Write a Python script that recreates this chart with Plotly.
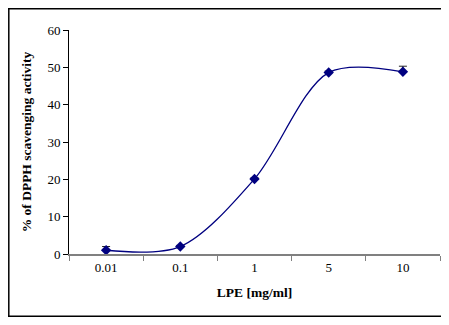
import plotly.graph_objects as go

categories = ["0.01", "0.1", "1", "5", "10"]
activity = [1.0, 2.0, 20.1, 48.6, 48.8]
err_plus = [1.0, 0.3, 0.3, 0.4, 1.5]
y_ticks = [0, 10, 20, 30, 40, 50, 60]

font_family = "Liberation Serif, Times New Roman, serif"

# page body adds an 8px margin; size the figure so the page does not scroll
W, H = 433, 309
L, R, T, B = 61, 1, 22, 63
PW, PH = W - L - R, H - T - B

def px_x(p):
    return (p - L) / PW

def px_y(p):
    return (H - B - p) / PH

fig = go.Figure()
fig.add_trace(go.Scatter(
    x=categories, y=activity, mode="lines+markers",
    line=dict(color="#000080", width=1.3, shape="spline", smoothing=0.9),
    marker=dict(symbol="diamond", size=8, color="#000080"),
    error_y=dict(type="data", array=err_plus, arrayminus=[0]*len(err_plus),
                 symmetric=False, color="#222222", thickness=1, width=4),
    showlegend=False,
))

frame = dict(color="black", width=1.5)
fig.update_layout(
    width=W, height=H,
    margin=dict(l=L, r=R, t=T, b=B, autoexpand=False),
    paper_bgcolor="white", plot_bgcolor="white",
    font=dict(family=font_family, size=13, color="black"),
    xaxis=dict(
        type="category", range=[-0.5, 4.5], automargin=False,
        showline=True, linecolor="#808080", linewidth=2,
        ticks="outside", tickson="boundaries", ticklen=5, tickcolor="#808080",
        showgrid=False, zeroline=False,
        title=dict(text="<b>LPE [mg/ml]</b>", font=dict(size=13.5, family=font_family), standoff=14),
        tickfont=dict(size=13, family=font_family),
    ),
    yaxis=dict(
        range=[0, 60], tickvals=y_ticks, automargin=False,
        showline=True, linecolor="black", linewidth=1,
        ticks="outside", ticklen=5, tickcolor="black",
        showgrid=False, zeroline=False,
        title=dict(text="<b>% of DPPH scavenging activity</b>", font=dict(size=13.5, family=font_family), standoff=12),
        tickfont=dict(size=13, family=font_family),
    ),
    shapes=[
        dict(type="line", xref="paper", yref="paper", x0=px_x(0.8), x1=px_x(0.8),
             y0=px_y(0.8), y1=px_y(H - 0.8), line=frame),
        dict(type="line", xref="paper", yref="paper", x0=px_x(0), x1=px_x(W),
             y0=px_y(0.8), y1=px_y(0.8), line=frame),
        dict(type="line", xref="paper", yref="paper", x0=px_x(0), x1=px_x(W),
             y0=px_y(H - 0.8), y1=px_y(H - 0.8), line=frame),
    ],
)

fig.write_html("out.html")
